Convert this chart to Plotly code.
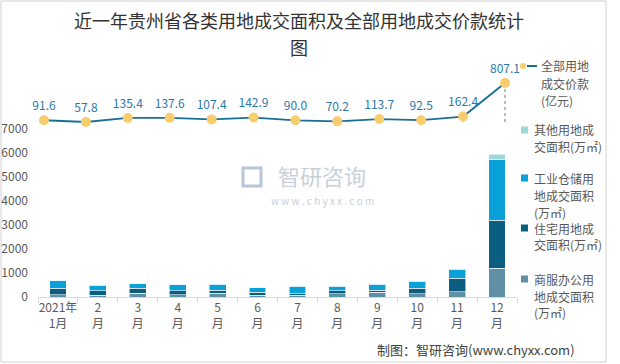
import plotly.graph_objects as go

# ---------------- data ----------------
MONTHS = ["2021年<br>1月", "2<br>月", "3<br>月", "4<br>月", "5<br>月", "6<br>月",
          "7<br>月", "8<br>月", "9<br>月", "10<br>月", "11<br>月", "12<br>月"]
COMMERCIAL = [95, 65, 150, 95, 165, 65, 65, 130, 200, 130, 210, 1190]     # 商服办公
RESIDENTIAL = [280, 195, 207, 165, 110, 140, 70, 140, 90, 245, 565, 2000]  # 住宅
INDUSTRIAL = [315, 240, 195, 255, 250, 205, 320, 185, 250, 290, 390, 2530] # 工业仓储
OTHER = [10, 5, 28, 10, 25, 5, 5, 5, 5, 5, 5, 235]                         # 其他
TOTAL_PRICE = [91.6, 57.8, 135.4, 137.6, 107.4, 142.9, 90.0, 70.2, 113.7, 92.5, 162.4, 807.1]
PRICE_LABELS = ["91.6", "57.8", "135.4", "137.6", "107.4", "142.9", "90.0", "70.2",
                "113.7", "92.5", "162.4", "807.1"]
Y_TICKS = [0, 1000, 2000, 3000, 4000, 5000, 6000, 7000]

NAME_PRICE = "全部用地成交价款(亿元)"
NAME_OTHER = "其他用地成交面积(万㎡)"
NAME_IND = "工业仓储用地成交面积(万㎡)"
NAME_RES = "住宅用地成交面积(万㎡)"
NAME_COM = "商服办公用地成交面积(万㎡)"
LEGEND_LINES = {
    NAME_PRICE: ["全部用地", "成交价款", "(亿元)"],
    NAME_OTHER: ["其他用地成", "交面积(万㎡)"],
    NAME_IND: ["工业仓储用", "地成交面积", "(万㎡)"],
    NAME_RES: ["住宅用地成", "交面积(万㎡)"],
    NAME_COM: ["商服办公用", "地成交面积", "(万㎡)"],
}
TITLE_LINE1 = "近一年贵州省各类用地成交面积及全部用地成交价款统计"
TITLE_LINE2 = "图"
SOURCE = "制图：智研咨询(www.chyxx.com)"

# ---------------- style ----------------
W, H = 620, 364
L, R, T, B = 38, 103, 70, 67
PW, PH = W - L - R, H - T - B
C_COM = "#5f90a6"
C_RES = "#0c5e80"
C_IND = "#0aa0d8"
C_OTH = "#9fd6d6"
C_LINE = "#1a6f96"
C_MARK = "#f7cd6f"
C_LABEL = "#2a79a8"
C_TEXT = "#595959"
FONT = "Noto Sans CJK SC, sans-serif"
DROP_BASE = 40

def px(x):
    return (x - L) / PW

def py(y):
    return (H - B - y) / PH

fig = go.Figure()
bar_line = dict(color="rgba(255,255,255,0.7)", width=0.8)
for name, vals, col in [(NAME_COM, COMMERCIAL, C_COM), (NAME_RES, RESIDENTIAL, C_RES),
                        (NAME_IND, INDUSTRIAL, C_IND), (NAME_OTHER, OTHER, C_OTH)]:
    fig.add_trace(go.Bar(x=MONTHS, y=vals, name=name, marker=dict(color=col, line=bar_line),
                         width=0.42, showlegend=False))

# dotted drop lines
dx, dy = [], []
for m, v in zip(MONTHS, TOTAL_PRICE):
    dx += [m, m, None]
    dy += [v, DROP_BASE, None]
fig.add_trace(go.Scatter(x=dx, y=dy, mode="lines", xaxis="x2", yaxis="y2",
                         line=dict(color="#a6a6a6", width=1.5, dash="dot"),
                         hoverinfo="skip", showlegend=False))

fig.add_trace(go.Scatter(x=MONTHS, y=TOTAL_PRICE, name=NAME_PRICE, xaxis="x2", yaxis="y2",
                         mode="lines+markers+text", text=PRICE_LABELS,
                         textposition="top center", cliponaxis=False,
                         textfont=dict(size=12, color=C_LABEL, family=FONT),
                         line=dict(color=C_LINE, width=1.8),
                         marker=dict(color=C_MARK, size=10, line=dict(width=0)),
                         showlegend=False))

ann = []
shapes = []
# second title line
ann.append(dict(text=TITLE_LINE2, xref="paper", yref="paper", x=px(299), y=py(47),
                xanchor="center", yanchor="middle", showarrow=False,
                font=dict(size=18, color="#333333", family=FONT)))
# custom legend
legend_spec = [
    (NAME_PRICE, None, 66, [65, 83, 100], 539),
    (NAME_OTHER, C_OTH, 130, [129, 146], 532),
    (NAME_IND, C_IND, 178, [178, 195, 212], 532),
    (NAME_RES, C_RES, 228, [228, 244], 532),
    (NAME_COM, C_COM, 279, [279, 296, 312], 532),
]
for name, col, sy, ys, tx in legend_spec:
    if col is None:
        shapes.append(dict(type="line", xref="paper", yref="paper", x0=px(527), x1=px(537),
                           y0=py(sy), y1=py(sy), line=dict(color=C_LINE, width=2)))
        shapes.append(dict(type="circle", xref="paper", yref="paper", x0=px(520), x1=px(526),
                           y0=py(sy + 3), y1=py(sy - 3), fillcolor=C_MARK,
                           line=dict(width=0)))
    else:
        shapes.append(dict(type="rect", xref="paper", yref="paper", x0=px(521), x1=px(528),
                           y0=py(sy + 3.5), y1=py(sy - 3.5), fillcolor=col,
                           line=dict(width=0)))
    for line_txt, yy in zip(LEGEND_LINES[name], ys):
        ann.append(dict(text=line_txt, xref="paper", yref="paper", x=px(tx), y=py(yy),
                        xanchor="left", yanchor="middle", showarrow=False,
                        font=dict(size=12, color=C_TEXT, family=FONT)))

# watermark
ann.append(dict(text="智研咨询", xref="paper", yref="paper", x=px(322), y=py(175),
                xanchor="center", yanchor="middle", showarrow=False,
                font=dict(size=22, color="#c9d0d9", family=FONT)))
ann.append(dict(text="w w w . c h y x x . c o m", xref="paper", yref="paper",
                x=px(322), y=py(200), xanchor="center", yanchor="middle", showarrow=False,
                font=dict(size=10, color="#c9d0d9", family=FONT)))
shapes.append(dict(type="rect", xref="paper", yref="paper", x0=px(243), x1=px(261),
                   y0=py(186), y1=py(168), fillcolor="rgba(0,0,0,0)",
                   line=dict(color="#b8c6da", width=3)))
# source
ann.append(dict(text=SOURCE, xref="paper", yref="paper", x=px(375), y=py(349),
                xanchor="left", yanchor="middle", showarrow=False,
                font=dict(size=13, color="#404040", family=FONT)))
# border
shapes.append(dict(type="rect", xref="paper", yref="paper", x0=px(1), x1=px(606),
                   y0=py(1), y1=py(362), line=dict(color="#d0d0d0", width=1),
                   fillcolor="rgba(0,0,0,0)", layer="below"))

fig.update_layout(
    width=W, height=H, margin=dict(l=L, r=R, t=T, b=B, autoexpand=False),
    paper_bgcolor="white", plot_bgcolor="white",
    barmode="stack", showlegend=False,
    font=dict(family=FONT, color=C_TEXT),
    title=dict(text=TITLE_LINE1, x=299 / W, xref="container", xanchor="center",
               y=1 - 22 / H, yref="container", yanchor="middle", automargin=False,
               font=dict(size=18, color="#333333", family=FONT)),
    xaxis=dict(type="category", categoryorder="array", categoryarray=MONTHS,
               range=[-0.5, 11.5], autorange=False, showline=True, linecolor="#d9d9d9",
               ticks="outside", tickson="boundaries", ticklen=5, tickcolor="#d9d9d9",
               tickangle=0, automargin=False,
               tickfont=dict(size=12, color=C_TEXT), showgrid=False, fixedrange=True),
    yaxis=dict(range=[0, 9458], autorange=False, tickvals=Y_TICKS, showgrid=False,
               zeroline=False, automargin=False,
               showline=False, ticks="", ticklabelstandoff=9,
               tickfont=dict(size=12, color=C_TEXT)),
    xaxis2=dict(type="category", categoryorder="array", categoryarray=MONTHS,
                overlaying="x", range=[-0.143, 11.286], autorange=False, visible=False),
    yaxis2=dict(overlaying="y", side="right", range=[-3302, 1056], autorange=False,
                visible=False),
    annotations=ann, shapes=shapes,
)

fig.write_html("out.html", config={"displayModeBar": False},
               post_script="document.body.style.margin='0';document.body.style.overflow='hidden';")
